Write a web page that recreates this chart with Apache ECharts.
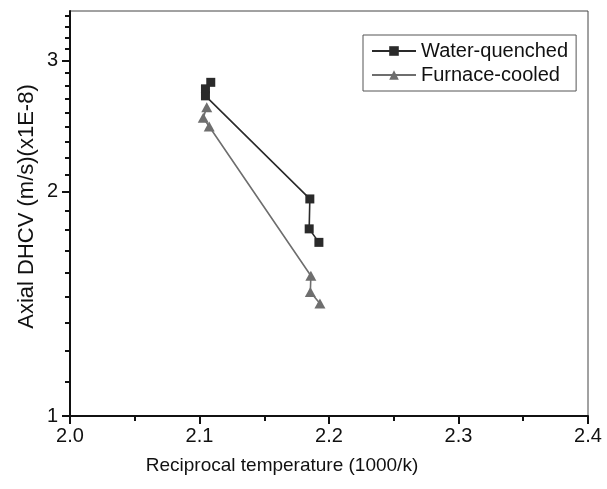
<!DOCTYPE html>
<html>
<head>
<meta charset="utf-8">
<script src="https://cdn.jsdelivr.net/npm/echarts@6/dist/echarts.min.js"></script>
<style>
  html, body { margin: 0; padding: 0; background: #fff; }
  #chart { width: 607px; height: 489px; }
</style>
</head>
<body>
<div id="chart"></div>
<script>
// values
const waterX = [2.1087, 2.1046, 2.1046, 2.1852, 2.1847, 2.1922]
const waterY = [2.807, 2.751, 2.692, 1.957, 1.784, 1.711]
const furnaceX = [2.1056, 2.1029, 2.1075, 2.186, 2.1856, 2.193]
const furnaceY = [2.598, 2.515, 2.449, 1.543, 1.468, 1.416]
const yMajor = [1, 2, 3]
// origin puts 8 minor ticks between major ones (steps of 1/9)
const yMinor = []
yMajor.forEach(function (m) {
    for (let i = 1; i <= 8; i++) {
        let v = m + i / 9
        if (v < 3.5) yMinor.push(v)
    }
})

const font = 'Arial, "Liberation Sans", sans-serif'
const pairs = (xs, ys) => xs.map((x, i) => [x, ys[i]])
const tickStyle = { color: '#111', width: 2 }

let option = {
    animation: false,
    backgroundColor: '#fff',
    grid: {
        left: 70, right: 19, top: 11, bottom: 73,
        show: true, borderColor: '#444', borderWidth: 1
    },
    legend: {
        orient: 'vertical',
        left: 363, top: 35,
        padding: [6, 8, 6, 8],
        itemGap: 4,
        itemWidth: 44,
        itemHeight: 12,
        borderColor: '#555',
        borderWidth: 1,
        textStyle: { fontFamily: font, fontSize: 20, color: '#111' },
        data: ['Water-quenched', 'Furnace-cooled']
    },
    xAxis: {
        type: 'value',
        min: 2.0, max: 2.4, interval: 0.1,
        name: 'Reciprocal temperature (1000/k)',
        nameLocation: 'middle',
        nameGap: 40,
        nameTextStyle: { fontFamily: font, fontSize: 19, color: '#111', padding: [0, 94, 0, 0] },
        axisLine: { lineStyle: { color: '#111', width: 2 } },
        axisTick: { inside: false, length: 8, lineStyle: tickStyle },
        minorTick: { show: true, splitNumber: 2, length: 5, lineStyle: tickStyle },
        splitLine: { show: false },
        minorSplitLine: { show: false },
        axisLabel: {
            fontFamily: font, fontSize: 20, color: '#111', margin: 10,
            formatter: v => v.toFixed(1)
        }
    },
    yAxis: [
        {
            type: 'log', logBase: 10,
            min: 1, max: 3.5,
            name: 'Axial DHCV (m/s)(x1E-8)',
            nameLocation: 'middle',
            nameGap: 32,
            nameMoveOverlap: false,
            nameRotate: 90,
            nameTextStyle: { fontFamily: font, fontSize: 22, color: '#111', padding: [0, 0, 0, 14] },
            axisLine: { show: true, lineStyle: { color: '#111', width: 2 } },
            axisTick: { inside: false, customValues: yMajor, length: 8, lineStyle: tickStyle },
            axisLabel: { customValues: yMajor, fontFamily: font, fontSize: 20, color: '#111', margin: 12 },
            splitLine: { show: false }
        },
        {
            type: 'log', logBase: 10,
            min: 1, max: 3.5,
            position: 'left',
            axisLine: { show: false },
            axisTick: { inside: false, customValues: yMinor, length: 5, lineStyle: tickStyle },
            axisLabel: { show: false },
            splitLine: { show: false }
        }
    ],
    series: [
        {
            name: 'Water-quenched',
            type: 'line',
            yAxisIndex: 0,
            data: pairs(waterX, waterY),
            symbol: 'rect',
            symbolSize: 9,
            itemStyle: { color: '#2a2a2a' },
            lineStyle: { color: '#2a2a2a', width: 1.6 },
            z: 3
        },
        {
            name: 'Furnace-cooled',
            type: 'line',
            yAxisIndex: 0,
            data: pairs(furnaceX, furnaceY),
            symbol: 'triangle',
            symbolSize: [11, 10],
            itemStyle: { color: '#6e6e6e' },
            lineStyle: { color: '#6e6e6e', width: 1.6 },
            z: 2
        }
    ]
}

let chart = echarts.init(document.getElementById('chart'), null, { renderer: 'canvas' })
chart.setOption(option)
</script>
</body>
</html>
